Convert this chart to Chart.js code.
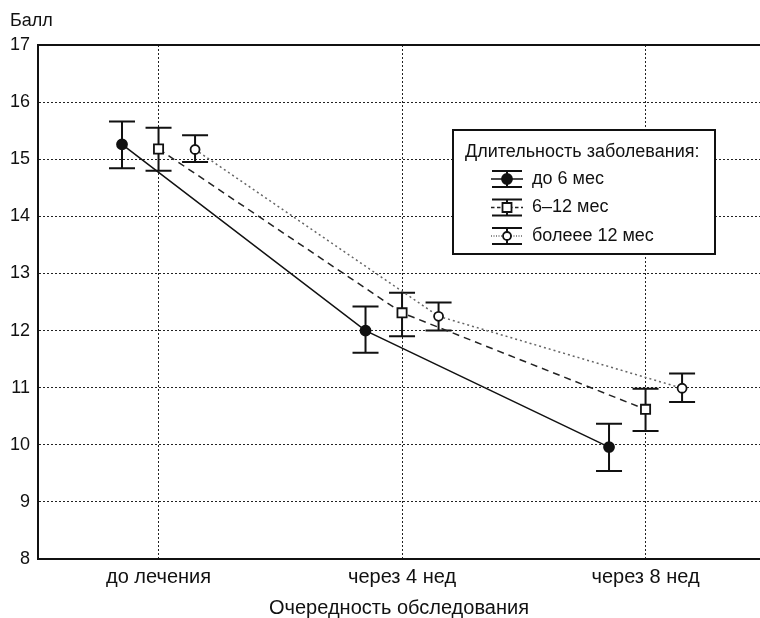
<!DOCTYPE html>
<html>
<head>
<meta charset="utf-8">
<script src="https://cdn.jsdelivr.net/npm/chart.js@4/dist/chart.umd.min.js"></script>
<style>
  html, body { margin: 0; padding: 0; background: #fff; }
  #wrap { width: 760px; height: 618px; position: relative; }
</style>
</head>
<body>
<div id="wrap"><canvas id="chart" width="760" height="618"></canvas></div>
<script>
// categories along x
const categories = ['до лечения', 'через 4 нед', 'через 8 нед'];
const seriesNames = ['до 6 мес', '6–12 мес', 'болеее 12 мес'];
const groupOffsets = [-0.15, 0, 0.15];

// means and error bar ends
const means1 = [15.26, 12.0, 9.96];
const high1 = [15.66, 12.42, 10.37];
const low1 = [14.84, 11.61, 9.54];

const means2 = [15.18, 12.31, 10.62];
const high2 = [15.55, 12.66, 10.98];
const low2 = [14.80, 11.90, 10.24];

const means3 = [15.17, 12.25, 10.99];
const high3 = [15.42, 12.49, 11.25];
const low3 = [14.95, 12.0, 10.75];

const yTicks = [8, 9, 10, 11, 12, 13, 14, 15, 16, 17];

const FONT = '"Liberation Sans", Arial, sans-serif';
Chart.defaults.font.family = FONT;
Chart.defaults.color = '#111';

const styles = [
  { dash: [], color: '#111', pointStyle: 'circle', radius: 5, fill: '#111' },
  { dash: [7, 5], color: '#222', pointStyle: 'rect', radius: 6.5, fill: '#fff' },
  { dash: [2, 3], color: '#666', pointStyle: 'circle', radius: 4.5, fill: '#fff' },
];

const allMeans = [means1, means2, means3];
const allHigh = [high1, high2, high3];
const allLow = [low1, low2, low3];

const datasets = allMeans.map((m, s) => ({
  label: seriesNames[s],
  data: m.map((v, i) => ({ x: i + groupOffsets[s], y: v })),
  borderColor: styles[s].color,
  borderDash: styles[s].dash,
  borderWidth: 1.5,
  pointStyle: styles[s].pointStyle,
  pointRadius: styles[s].radius,
  pointBackgroundColor: styles[s].fill,
  pointBorderColor: '#111',
  pointBorderWidth: 1.8,
  tension: 0,
}));

// error bars drawn through the chart scales
const errorBars = {
  id: 'errorBars',
  beforeDatasetsDraw(chart) {
    const { ctx, scales: { x, y } } = chart;
    ctx.save();
    ctx.strokeStyle = '#111';
    ctx.lineWidth = 2;
    ctx.setLineDash([]);
    allMeans.forEach((m, s) => {
      m.forEach((v, i) => {
        const px = x.getPixelForValue(i + groupOffsets[s]);
        const top = y.getPixelForValue(allHigh[s][i]);
        const bot = y.getPixelForValue(allLow[s][i]);
        ctx.beginPath();
        ctx.moveTo(px, top); ctx.lineTo(px, bot);
        ctx.moveTo(px - 13, top); ctx.lineTo(px + 13, top);
        ctx.moveTo(px - 13, bot); ctx.lineTo(px + 13, bot);
        ctx.stroke();
      });
    });
    ctx.restore();
  },
};

// solid frame and "Балл" label
const frame = {
  id: 'frame',
  afterDraw(chart) {
    const { ctx, chartArea: a } = chart;
    ctx.save();
    ctx.strokeStyle = '#111';
    ctx.lineWidth = 2;
    ctx.setLineDash([]);
    ctx.beginPath();
    ctx.moveTo(a.right + 2, a.top); ctx.lineTo(a.left, a.top);
    ctx.lineTo(a.left, a.bottom); ctx.lineTo(a.right + 2, a.bottom);
    ctx.stroke();
    ctx.fillStyle = '#111';
    ctx.font = '18px ' + FONT;
    ctx.textBaseline = 'middle';
    ctx.textAlign = 'left';
    ctx.fillText('Балл', 10, 21);
    ctx.restore();
  },
};

// boxed legend with error-bar icons
const boxLegend = {
  id: 'boxLegend',
  afterDraw(chart) {
    const { ctx } = chart;
    const bx = 453, by = 130, bw = 262, bh = 124;
    ctx.save();
    ctx.fillStyle = '#fff';
    ctx.fillRect(bx, by, bw, bh);
    ctx.strokeStyle = '#111';
    ctx.lineWidth = 2;
    ctx.strokeRect(bx, by, bw, bh);
    ctx.fillStyle = '#111';
    ctx.font = '18px ' + FONT;
    ctx.textBaseline = 'middle';
    ctx.fillText('Длительность заболевания:', 465, 152);
    seriesNames.forEach((name, s) => {
      const cy = 179 + s * 28.5;
      const cx = 507;
      const st = styles[s];
      ctx.setLineDash(st.dash.length ? [st.dash[0] * 0.5, st.dash[1] * 0.5] : []);
      ctx.strokeStyle = st.color;
      ctx.lineWidth = 1.5;
      ctx.beginPath();
      ctx.moveTo(cx - 16, cy); ctx.lineTo(cx + 16, cy);
      ctx.stroke();
      ctx.setLineDash([]);
      ctx.strokeStyle = '#111';
      ctx.lineWidth = 2;
      ctx.beginPath();
      ctx.moveTo(cx, cy - 8); ctx.lineTo(cx, cy + 8);
      ctx.moveTo(cx - 15, cy - 8); ctx.lineTo(cx + 15, cy - 8);
      ctx.moveTo(cx - 15, cy + 8); ctx.lineTo(cx + 15, cy + 8);
      ctx.stroke();
      ctx.fillStyle = st.fill;
      ctx.lineWidth = 1.8;
      ctx.beginPath();
      if (st.pointStyle === 'rect') {
        ctx.rect(cx - 4.5, cy - 4.5, 9, 9);
      } else {
        ctx.arc(cx, cy, s === 0 ? 5 : 4, 0, Math.PI * 2);
      }
      ctx.fill();
      ctx.stroke();
      ctx.fillStyle = '#111';
      ctx.fillText(name, 532, cy);
    });
    ctx.restore();
  },
};

new Chart(document.getElementById('chart'), {
  type: 'line',
  data: { datasets },
  plugins: [errorBars, frame, boxLegend],
  options: {
    responsive: false,
    animation: false,
    events: [],
    devicePixelRatio: 1,
    layout: { autoPadding: false, padding: { top: 45, right: 0, left: 0, bottom: 0 } },
    plugins: { legend: { display: false }, tooltip: { enabled: false } },
    scales: {
      x: {
        type: 'linear',
        min: -0.495,
        max: 2.47,
        afterBuildTicks: (scale) => { scale.ticks = categories.map((c, i) => ({ value: i })); },
        afterFit: (scale) => {
          scale.height = 59;
          scale.paddingLeft = 0;
          scale.paddingRight = 0;
        },
        ticks: {
          callback: (v) => categories[v],
          font: { size: 20 },
          color: '#111',
          padding: 6,
          maxRotation: 0,
        },
        grid: { color: '#222', lineWidth: 1, drawTicks: false },
        border: { color: '#111', width: 2, dash: [2, 2] },
        title: {
          display: true,
          text: 'Очередность обследования',
          font: { size: 20, lineHeight: 1 },
          color: '#111',
          padding: { top: 0, bottom: 0 },
        },
      },
      y: {
        min: 8,
        max: 17,
        afterBuildTicks: (scale) => { scale.ticks = yTicks.map((v) => ({ value: v })); },
        afterFit: (scale) => { scale.width = 38; },
        ticks: { font: { size: 18 }, color: '#111', padding: 8 },
        grid: { color: '#222', lineWidth: 1, drawTicks: false },
        border: { color: '#111', width: 2, dash: [2, 2] },
      },
    },
  },
});
</script>
</body>
</html>
